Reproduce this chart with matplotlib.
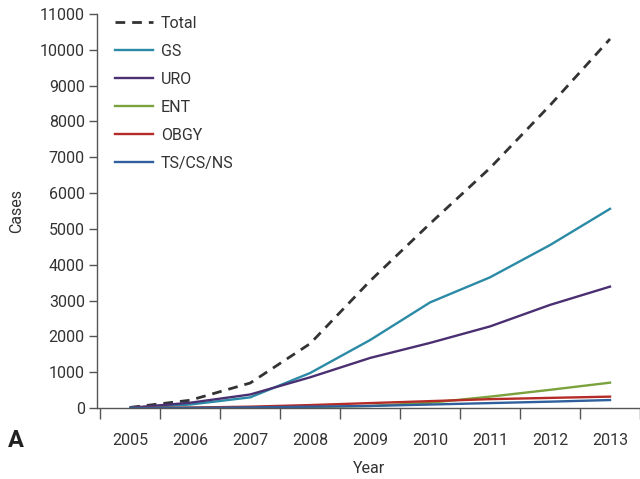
import numpy as np
import matplotlib
matplotlib.use('Agg')
import matplotlib.pyplot as plt

plt.rcParams['font.family'] = ['Roboto', 'DejaVu Sans']

# ── Data ────────────────────────────────────────────────────────────────────
years = ["2005", "2006", "2007", "2008", "2009", "2010", "2011", "2012", "2013"]
total = [20, 220, 700, 1800, 3550, 5150, 6700, 8450, 10300]
gs    = [5, 100, 300, 980, 1900, 2950, 3650, 4550, 5560]
uro   = [10, 150, 380, 860, 1400, 1820, 2280, 2880, 3390]
ent   = [0, 5, 15, 30, 60, 150, 320, 510, 710]
obgy  = [0, 15, 40, 85, 140, 195, 250, 285, 320]
tscs  = [0, 5, 20, 40, 60, 100, 140, 180, 225]

series = [
    ("Total",     total, '#333333', '--'),
    ("GS",        gs,    '#2b8aa6', '-'),
    ("URO",       uro,   '#4a2f72', '-'),
    ("ENT",       ent,   '#7ba23c', '-'),
    ("OBGY",      obgy,  '#b52b27', '-'),
    ("TS/CS/NS",  tscs,  '#2f5f9c', '-'),
]

TXT = '#333333'
FS = 11.5

fig = plt.figure(figsize=(6.4, 4.79), dpi=100)
ax = fig.add_axes([0.152, 0.148, 0.848, 0.823])

x = np.arange(len(years))
for name, vals, col, ls in series:
    if ls == '--':
        ax.plot(x, vals, color=col, lw=2.0, ls=(0, (3.5, 2.5)), label=name)
    else:
        ax.plot(x, vals, color=col, lw=1.7, label=name)

ax.set_xlim(-0.55, 8.45)
ax.set_ylim(0, 11000)
ax.set_yticks(np.arange(0, 11001, 1000))
ax.set_xticks(x)
ax.set_xticklabels(years)
ax.set_xticks(np.arange(-0.5, 8.6, 1), minor=True)
ax.tick_params(axis='x', which='major', length=0, pad=18, labelsize=FS, colors=TXT)
ax.tick_params(axis='x', which='minor', length=8, width=1, color='#555555')
ax.tick_params(axis='y', length=6, width=1, color='#555555', labelsize=FS,
               labelcolor=TXT, pad=3)

for s in ['top', 'right']:
    ax.spines[s].set_visible(False)
for s in ['left', 'bottom']:
    ax.spines[s].set_color('#555555')
    ax.spines[s].set_linewidth(1)

ax.set_xlabel("Year", fontsize=FS, color=TXT, labelpad=9)
ax.set_ylabel("Cases", fontsize=FS, color=TXT, labelpad=11)

leg = ax.legend(loc='upper left', frameon=False, fontsize=FS, handlelength=2.4,
                handletextpad=0.5, labelspacing=0.82,
                bbox_to_anchor=(0.02, 1.012), borderaxespad=0)
for t in leg.get_texts():
    t.set_color(TXT)

fig.text(0.012, 0.066, "A", fontsize=17, fontweight='bold', color='#222222')

fig.savefig("out.png", dpi=100)
